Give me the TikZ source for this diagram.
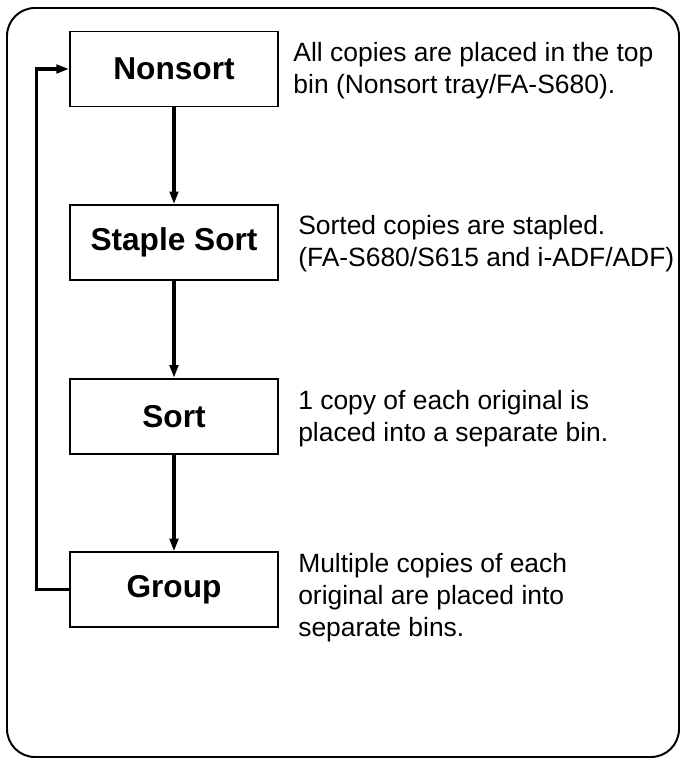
\documentclass[tikz,border=0pt]{standalone}
\usepackage{fontspec}
\setmainfont{Liberation Sans}
\usepackage{tikz}
\usetikzlibrary{arrows.meta}

\begin{document}
\begin{tikzpicture}[x=1cm,y=1cm,
  mode/.style={rectangle,draw,line width=1.3pt,minimum width=5.2cm,minimum height=1.875cm,
    inner sep=0pt,font=\fontsize{22.5}{26}\selectfont\bfseries},
  note/.style={anchor=west,align=left,inner sep=0pt,font=\fontsize{18.8}{22.8}\selectfont},
  w/.style={-{Triangle[length=9pt,width=6pt]},line width=2.2pt},
  frame/.style={line width=1.4pt,rounded corners=0.7cm}]
\useasboundingbox (0,0) rectangle (17.1,19.025);
\draw[frame] (0.175,0.1) rectangle (16.975,18.825);
% the four modes
\node[mode] (non) at (4.35,17.3)  {Nonsort};
\node[mode] (stp) at (4.35,12.96) {Staple Sort};
\node[mode] (srt) at (4.35,8.62)  {Sort};
\node[mode] (grp) at (4.35,4.28)  {Group};
% notes
\node[note] (tnon) at (7.33,17.25) {All copies are placed in the top\\bin (Nonsort tray/FA-S680).};
\node[note] (tstp) at (7.45,12.93) {Sorted copies are stapled.\\(FA-S680/S615 and i-ADF/ADF)};
\node[note] (tsrt) at (7.45,8.55)  {1 copy of each original is\\placed into a separate bin.};
\node[note] (tgrp) at (7.45,4.08)  {Multiple copies of each\\original are placed into\\separate bins.};
% cycle
\draw[w] (non) -- (stp);
\draw[w] (stp) -- (srt);
\draw[w] (srt) -- (grp);
\draw[w] (grp.west) -- ++(-0.825,0) |- (non.west);
\end{tikzpicture}
\end{document}
